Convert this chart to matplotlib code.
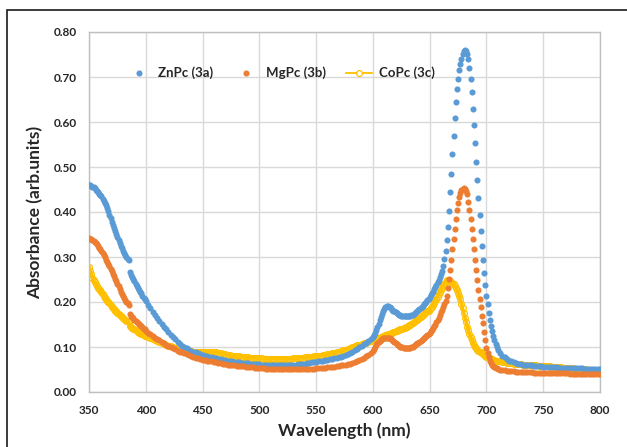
import numpy as np
import matplotlib
matplotlib.use("Agg")
import matplotlib.pyplot as plt
from matplotlib.patches import Rectangle

# wavelength grid (nm): 1 nm steps where the spectra are steep, 2 nm elsewhere
wl = np.concatenate([np.arange(350, 401, 1), np.arange(402, 599, 2),
                     np.arange(600, 711, 1), np.arange(712, 801, 2)])

# ZnPc (3a)
znpc = [
    .460, .459, .458, .456, .455, .453, .450, .447, .444, .441,
    .438, .435, .430, .425, .420, .415, .409, .402, .394, .386,
    .378, .371, .364, .357, .351, .345, .338, .331, .325, .319,
    .314, .309, .304, .300, .296, .293, .266, .261, .256, .251,
    .246, .241, .236, .232, .227, .223, .219, .214, .210, .206,
    .202,
    .194, .186, .178, .171, .164, .158, .151, .145, .139, .133,
    .127, .122, .117, .112, .106, .103, .100, .097, .094, .092,
    .090, .088, .086, .084, .083, .081, .080, .078, .077, .076,
    .075, .074, .073, .072, .071, .070, .069, .068, .067, .066,
    .066, .065, .065, .064, .064, .063, .063, .062, .062, .062,
    .061, .061, .061, .061, .060, .060, .060, .060, .060, .060,
    .060, .060, .060, .061, .061, .061, .062, .062, .063, .063,
    .064, .065, .066, .066, .067, .068, .069, .070, .071, .072,
    .073, .074, .075, .076, .077, .078, .080, .082, .084, .087,
    .090, .093, .096, .100, .103, .106, .110, .114, .118,
    .123, .127, .132, .138, .145, .152, .160, .167, .174, .180,
    .185, .189, .191, .191, .190, .188, .186, .183, .181, .179,
    .177, .175, .173, .172, .171, .170, .169, .168, .168, .168,
    .168, .168, .169, .170, .171, .172, .174, .176, .178, .180,
    .182, .184, .187, .189, .192, .195, .198, .201, .204, .207,
    .211, .215, .219, .223, .228, .233, .238, .244, .249, .255,
    .262, .269, .279, .295, .314, .337, .367, .403, .444, .485,
    .528, .570, .610, .644, .673, .696, .716, .730, .741, .751,
    .757, .760, .758, .752, .740, .721, .696, .666, .630, .593,
    .553, .512, .471, .432, .394, .358, .324, .293, .264, .238,
    .214, .195, .175, .160, .147, .135, .124, .115, .107, .100, .094,
    .087, .081, .077, .073, .070, .068, .066, .064, .063, .062,
    .061, .060, .060, .059, .059, .058, .058, .057, .057, .056,
    .056, .056, .055, .055, .055, .055, .054, .054, .054, .054,
    .054, .053, .053, .053, .053, .053, .053, .052, .052, .052,
    .052, .052, .052, .052, .052,
]

# MgPc (3b)
mgpc = [
    .342, .341, .339, .337, .335, .333, .331, .328, .325, .321,
    .317, .313, .309, .304, .299, .294, .289, .285, .280, .274,
    .268, .263, .257, .252, .246, .240, .235, .229, .223, .218,
    .213, .209, .205, .201, .197, .194, .173, .170, .167, .164,
    .161, .158, .156, .154, .151, .149, .146, .144, .141, .139,
    .136,
    .132, .128, .125, .121, .118, .115, .111, .108, .105, .102,
    .100, .097, .095, .092, .090, .088, .086, .084, .082, .080,
    .078, .076, .075, .073, .072, .071, .070, .069, .068, .067,
    .066, .065, .064, .063, .062, .061, .060, .060, .059, .058,
    .058, .057, .057, .056, .056, .055, .055, .054, .054, .053,
    .053, .053, .052, .052, .052, .052, .052, .051, .051, .051,
    .051, .051, .051, .051, .051, .051, .051, .051, .051, .051,
    .052, .052, .052, .052, .053, .053, .053, .054, .054, .055,
    .055, .056, .056, .057, .058, .059, .060, .061, .062, .063,
    .065, .067, .069, .071, .073, .076, .079, .083, .087,
    .092, .096, .100, .104, .108, .111, .114, .116, .118, .119,
    .120, .121, .121, .121, .120, .119, .117, .115, .113, .111,
    .109, .107, .105, .103, .101, .100, .099, .098, .097, .097,
    .097, .097, .097, .098, .099, .100, .102, .104, .106, .108,
    .110, .112, .114, .116, .118, .120, .122, .124, .126, .129,
    .132, .135, .138, .142, .146, .150, .155, .160, .165, .171,
    .177, .183, .189, .195, .203, .213, .232, .252, .272, .294,
    .318, .341, .363, .384, .404, .420, .433, .443, .449, .452,
    .453, .451, .447, .441, .423, .404, .384, .362, .339, .317,
    .293, .271, .249, .227, .206, .188, .170, .153, .134, .116,
    .097, .086, .077, .070, .065, .061, .058, .056, .054, .053, .052,
    .050, .049, .048, .047, .047, .046, .046, .045, .045, .045,
    .044, .044, .044, .044, .044, .043, .043, .043, .043, .043,
    .043, .042, .042, .042, .042, .042, .042, .042, .042, .042,
    .042, .041, .041, .041, .041, .041, .041, .041, .041, .041,
    .041, .041, .041, .041, .041,
]

# CoPc (3c)
copc = [
    .278, .270, .262, .254, .248, .244, .240, .236, .232, .229,
    .226, .222, .218, .214, .210, .206, .203, .200, .197, .193,
    .190, .187, .184, .181, .179, .176, .174, .172, .170, .167,
    .165, .162, .160, .158, .157, .156, .146, .144, .142, .140,
    .139, .137, .135, .134, .132, .131, .129, .128, .126, .125,
    .124,
    .122, .120, .118, .116, .114, .112, .109, .107, .105, .103,
    .102, .100, .098, .097, .095, .094, .093, .092, .091, .091,
    .090, .089, .089, .088, .088, .088, .088, .088, .089, .089,
    .088, .087, .086, .085, .084, .083, .082, .081, .080, .079,
    .079, .078, .078, .077, .077, .076, .076, .076, .075, .075,
    .075, .074, .074, .074, .074, .074, .074, .074, .074, .074,
    .074, .074, .074, .074, .075, .075, .075, .076, .076, .077,
    .077, .078, .078, .079, .080, .080, .081, .082, .083, .084,
    .085, .086, .087, .088, .090, .091, .093, .094, .096, .098,
    .100, .102, .104, .105, .106, .108, .110, .112, .114,
    .115, .116, .117, .118, .119, .120, .121, .122, .123, .124,
    .125, .126, .127, .128, .129, .130, .131, .132, .133, .134,
    .135, .136, .137, .138, .139, .140, .141, .142, .143, .144,
    .145, .146, .148, .149, .151, .153, .155, .157, .159, .161,
    .163, .165, .167, .169, .171, .173, .175, .177, .179, .181,
    .184, .187, .190, .194, .198, .202, .207, .212, .217, .222,
    .227, .232, .237, .241, .245, .248, .249, .248, .247, .245,
    .243, .240, .236, .232, .227, .221, .214, .206, .196, .186,
    .175, .165, .155, .145, .137, .130, .123, .116, .110, .104,
    .100, .097, .094, .092, .090, .088, .086, .084, .082, .080,
    .078, .077, .076, .075, .074, .073, .072, .071, .070, .070, .069,
    .068, .067, .066, .065, .065, .064, .063, .063, .062, .062,
    .061, .061, .060, .060, .060, .059, .059, .058, .058, .058,
    .057, .057, .057, .056, .056, .056, .055, .055, .054, .054,
    .053, .053, .053, .052, .052, .052, .051, .051, .051, .050,
    .050, .050, .050, .049, .049,
]

xticks = [350, 400, 450, 500, 550, 600, 650, 700, 750, 800]
yticks = [0.0, 0.1, 0.2, 0.3, 0.4, 0.5, 0.6, 0.7, 0.8]

plt.rcParams['font.family'] = ['Lato', 'DejaVu Sans']
txt = '#262626'

fig = plt.figure(figsize=(6.27, 4.47), dpi=100)
ax = fig.add_axes([89 / 627, 1 - 392 / 447, 511 / 627, 360 / 447])

ax.plot(wl, copc, color='#FFC000', lw=2.4, marker='o', ms=4.2, mfc='none',
        mec='#FFC000', mew=0.9, label='CoPc (3c)', zorder=2)
ax.plot(wl, znpc, ls='none', marker='o', ms=4.4, color='#5B9BD5',
        mec='none', label='ZnPc (3a)', zorder=3)
ax.plot(wl, mgpc, ls='none', marker='o', ms=4.4, color='#ED7D31',
        mec='none', label='MgPc (3b)', zorder=4)

ax.set_xlim(350, 800)
ax.set_ylim(0, 0.8)
ax.set_xticks(xticks)
ax.set_yticks(yticks)
ax.set_yticklabels(['%.2f' % v for v in yticks])
ax.grid(True, color='#D9D9D9', lw=1.0)
ax.set_axisbelow(True)
for s in ax.spines.values():
    s.set_color('#BFBFBF')
    s.set_linewidth(1.0)
ax.tick_params(length=0, labelsize=8.5, labelcolor=txt, pad=9)
for lab in ax.get_xticklabels() + ax.get_yticklabels():
    lab.set_fontweight('bold')

ax.set_xlabel('Wavelength (nm)', fontsize=12.5, fontweight='bold', color=txt, labelpad=5)
ax.set_ylabel('Absorbance (arb.units)', fontsize=12.5, fontweight='bold', color=txt, labelpad=7)

h, l = ax.get_legend_handles_labels()
order = [1, 2, 0]
ax.legend([h[i] for i in order], [l[i] for i in order], ncol=3, frameon=False,
          loc='center', bbox_to_anchor=(0.374, 0.886), handlelength=2.0,
          handletextpad=0.5, columnspacing=1.5,
          prop={'weight': 'bold', 'size': 9.5})
leg = ax.get_legend()
for t in leg.get_texts():
    t.set_color(txt)
leg.legend_handles[2].set_linewidth(1.3)
leg.legend_handles[2].set_markerfacecolor('white')

# outer frame around the chart
fig.add_artist(Rectangle((7 / 627, -0.1), 1.2, 1 - 10 / 447 + 0.1,
                         transform=fig.transFigure, fill=False,
                         ec='#1a1a1a', lw=1.2))

fig.savefig('out.png', dpi=100)
